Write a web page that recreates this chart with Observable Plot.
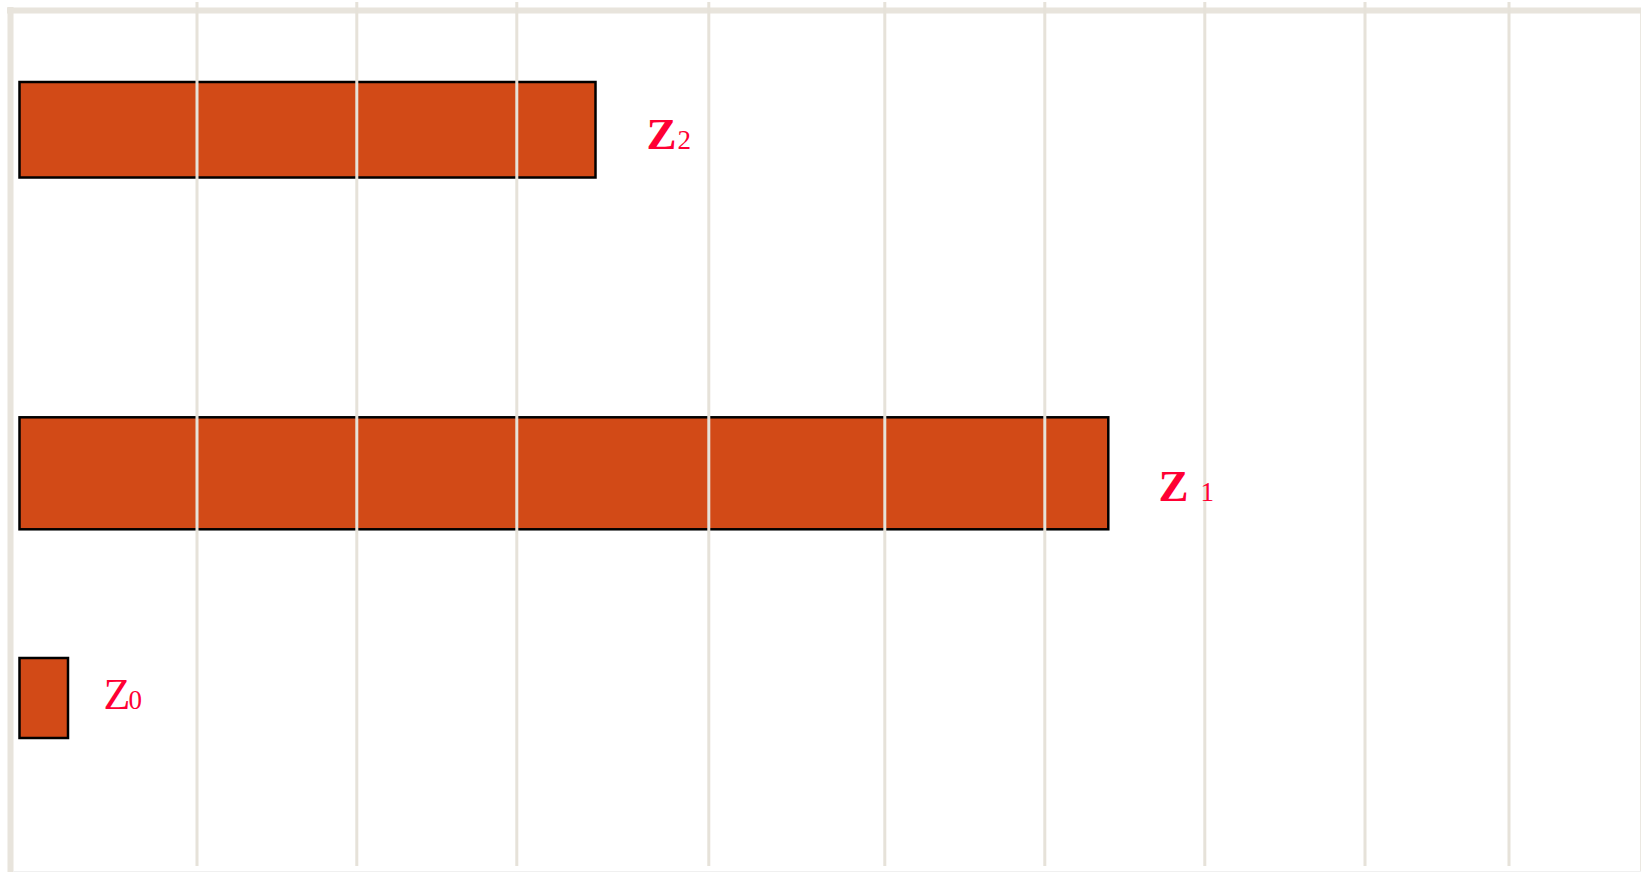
<!DOCTYPE html>
<html>
<head>
<meta charset="utf-8">
<script src="https://cdn.jsdelivr.net/npm/d3@7"></script>
<script src="https://cdn.jsdelivr.net/npm/@observablehq/plot@0.6"></script>
<style>
  html, body { margin: 0; padding: 0; background: #ffffff; overflow: hidden; }
  #chart svg { display: block; }
</style>
</head>
<body>
<div id="chart"></div>
<script>
// ---- data (units: x and y positions in chart units) ----
const categories = ["Z2", "Z1", "Z0"];
const barStart  = [0.195, 0.195, 0.195];
const barEnd    = [5.955, 11.083, 0.68];
const barTop    = [0.82, 4.173, 6.58];
const barBottom = [1.775, 5.293, 7.38];

const gridTicks = [1.965, 3.563, 5.163, 7.083, 8.843, 10.443, 12.043, 13.645, 15.085];

const labelMain = ["Z", "Z", "Z"];
const labelSub  = ["2", "1", "0"];
const labelX    = [6.46, 11.58, 1.03];
const subX      = [6.77, 12.00, 1.28];
const labelY    = [1.48, 5.00, 7.08];
const labelBold = [true, true, false];

// ---- tables built from the arrays ----
const bars = categories.map((c, i) => ({
  name: c, x1: barStart[i], x2: barEnd[i], y1: barTop[i], y2: barBottom[i]
}));
const labels = categories.map((c, i) => ({
  name: c, main: labelMain[i], sub: labelSub[i],
  x: labelX[i], sx: subX[i], y: labelY[i], bold: labelBold[i]
}));

const frameColor = "#e8e4dc";
const gridColor = "#e6e2d9";
const red = "#ff0033";
const serif = "'Liberation Serif', 'Times New Roman', Times, serif";

const chart = Plot.plot({
  width: 1641,
  height: 872,
  margin: 0,
  style: { background: "#ffffff" },
  x: { domain: [0, 16.41], range: [0, 1641], axis: null },
  y: { domain: [0, 8.72], range: [0, 872], axis: null },
  marks: [
    // frame
    Plot.ruleX([0.10], { y1: 0.07, y2: 8.72, stroke: frameColor, strokeWidth: 6 }),
    Plot.ruleY([0.10], { x1: 0.07, x2: 16.41, stroke: frameColor, strokeWidth: 6 }),
    Plot.ruleX([16.404], { y1: 0.13, y2: 8.72, stroke: frameColor, strokeWidth: 1.5 }),
    Plot.ruleY([8.713], { x1: 0.13, x2: 16.41, stroke: "#f0f0f0", strokeWidth: 1.5 }),
    // bars
    Plot.rect(bars, {
      x1: "x1", x2: "x2", y1: "y1", y2: "y2",
      fill: "#d24a17", stroke: "#000000", strokeWidth: 2.5
    }),
    // grid lines (drawn over the bars)
    Plot.ruleX(gridTicks, { y1: 0.02, y2: 8.66, stroke: gridColor, strokeWidth: 3 }),
    // labels
    Plot.text(labels.filter(d => d.bold), {
      x: "x", y: "y", text: "main", textAnchor: "start", lineAnchor: "bottom",
      fill: red, fontFamily: serif, fontSize: 45, fontWeight: "bold"
    }),
    Plot.text(labels.filter(d => !d.bold), {
      x: "x", y: "y", text: "main", textAnchor: "start", lineAnchor: "bottom",
      fill: red, fontFamily: serif, fontSize: 44, fontWeight: "normal"
    }),
    Plot.text(labels, {
      x: "sx", y: "y", text: "sub", textAnchor: "start", lineAnchor: "bottom",
      fill: red, fontFamily: serif, fontSize: 27, fontWeight: "normal"
    })
  ]
});

document.getElementById("chart").appendChild(chart);
</script>
</body>
</html>
